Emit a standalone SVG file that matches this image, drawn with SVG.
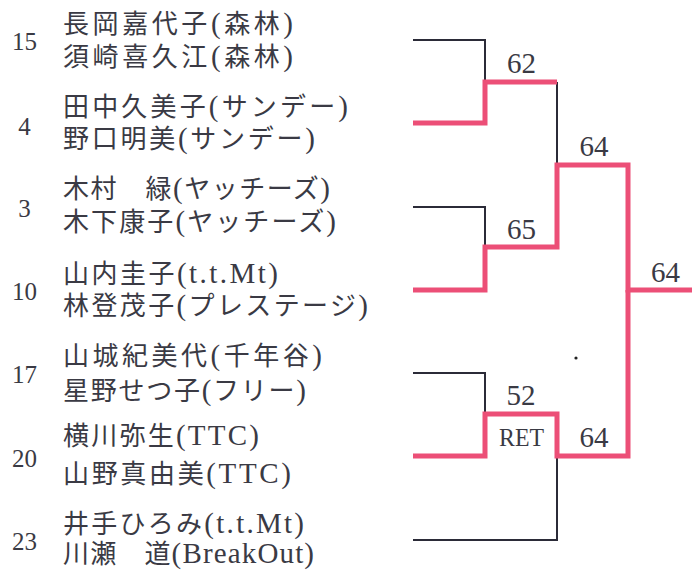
<svg xmlns="http://www.w3.org/2000/svg" width="692" height="577" viewBox="0 0 692 577">
<style>
.seed{font-family:"Liberation Serif","Times New Roman",serif;font-size:25px;fill:#3a3a44;text-anchor:middle}
.nm{font-family:"Liberation Serif","Noto Sans CJK JP",serif;font-size:26px;fill:#3a3a44}
.la{font-size:29px}
.sc{font-family:"Liberation Serif","Times New Roman",serif;font-size:29px;fill:#3a3a44;text-anchor:middle}
.ret{font-family:"Liberation Serif","Times New Roman",serif;font-size:26px;fill:#3a3a44;text-anchor:middle}
.lose{fill:none;stroke:#2b2b38;stroke-width:2}
.win{fill:none;stroke:#ec4f77;stroke-width:5;stroke-linejoin:miter}
</style>
<rect width="692" height="577" fill="#ffffff"/>
<g id="pair-15">
<text class="seed" x="24.5" y="50">15</text>
<text class="nm" x="63" y="33" textLength="230">長岡嘉代子<tspan class="la">(</tspan>森林<tspan class="la">)</tspan></text>
<text class="nm" x="63" y="66" textLength="230">須崎喜久江<tspan class="la">(</tspan>森林<tspan class="la">)</tspan></text>
</g>
<g id="pair-4">
<text class="seed" x="24.5" y="135">4</text>
<text class="nm" x="63" y="116" textLength="285">田中久美子<tspan class="la">(</tspan>サンデー<tspan class="la">)</tspan></text>
<text class="nm" x="63" y="148" textLength="252">野口明美<tspan class="la">(</tspan>サンデー<tspan class="la">)</tspan></text>
</g>
<g id="pair-3">
<text class="seed" x="24.5" y="217">3</text>
<text class="nm" x="63" y="198" textLength="267">木村　緑<tspan class="la">(</tspan>ヤッチーズ<tspan class="la">)</tspan></text>
<text class="nm" x="63" y="231" textLength="273">木下康子<tspan class="la">(</tspan>ヤッチーズ<tspan class="la">)</tspan></text>
</g>
<g id="pair-10">
<text class="seed" x="24.5" y="300">10</text>
<text class="nm" x="63" y="283" textLength="215">山内圭子<tspan class="la">(t.t.Mt)</tspan></text>
<text class="nm" x="63" y="315" textLength="305">林登茂子<tspan class="la">(</tspan>プレステージ<tspan class="la">)</tspan></text>
</g>
<g id="pair-17">
<text class="seed" x="24.5" y="383">17</text>
<text class="nm" x="63" y="365" textLength="259">山城紀美代<tspan class="la">(</tspan>千年谷<tspan class="la">)</tspan></text>
<text class="nm" x="63" y="400" textLength="243">星野せつ子<tspan class="la">(</tspan>フリー<tspan class="la">)</tspan></text>
</g>
<g id="pair-20">
<text class="seed" x="24.5" y="467">20</text>
<text class="nm" x="63" y="445" textLength="196">横川弥生<tspan class="la">(TTC)</tspan></text>
<text class="nm" x="63" y="483" textLength="228">山野真由美<tspan class="la">(TTC)</tspan></text>
</g>
<g id="pair-23">
<text class="seed" x="24.5" y="550">23</text>
<text class="nm" x="63" y="533" textLength="241">井手ひろみ<tspan class="la">(t.t.Mt)</tspan></text>
<text class="nm" x="63" y="563" textLength="251">川瀬　道<tspan class="la">(BreakOut)</tspan></text>
</g>
<g id="connectors">
<path class="lose" d="M413,40 H485 V82"/>
<path class="lose" d="M557,82 V165"/>
<path class="lose" d="M413,207 H485 V247"/>
<path class="lose" d="M628,165 V290"/>
<path class="lose" d="M413,373 H485 V414"/>
<path class="lose" d="M413,540 H557 V456"/>
<path class="win" d="M413,123 H485 V82 H557"/>
<path class="win" d="M413,290 H485 V247 H557 V165 H628 V290 H692"/>
<path class="win" d="M413,456 H485 V414 H557 V456 H628 V290"/>
</g>
<g id="scores">
<text class="sc" x="521.5" y="73">62</text>
<text class="sc" x="521.5" y="239">65</text>
<text class="sc" x="594" y="156">64</text>
<text class="sc" x="665.5" y="282">64</text>
<text class="sc" x="521" y="405">52</text>
<text class="ret" x="521.5" y="446" textLength="45" lengthAdjust="spacingAndGlyphs">RET</text>
<text class="sc" x="594" y="447">64</text>
</g>
<circle cx="576" cy="358" r="1.6" fill="#222"/>
</svg>
